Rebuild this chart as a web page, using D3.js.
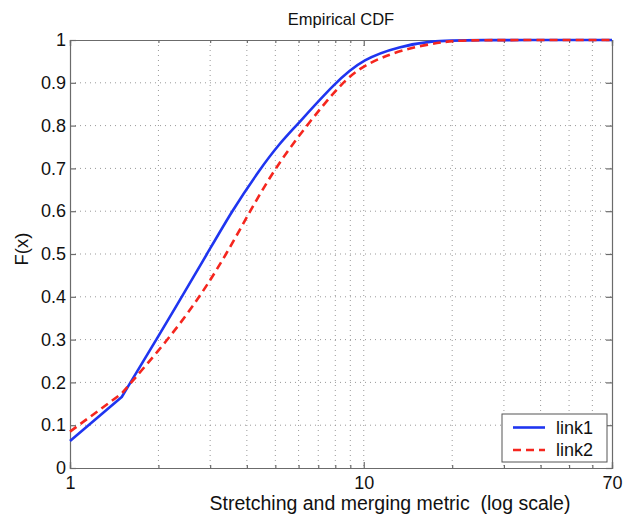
<!DOCTYPE html>
<html><head><meta charset="utf-8">
<script src="https://cdn.jsdelivr.net/npm/d3@7"></script>
<style>body{margin:0;background:#fff;} text{font-family:"Liberation Sans",Arial,sans-serif;fill:#111;}</style>
</head><body><svg id="c" width="633" height="517"></svg>
<script>
const seriesNames = ["link1", "link2"];
const link1X = [1, 1.5, 1.97, 2.93, 3.55, 4.45, 5.15, 5.9, 7.97, 10, 13.3, 17, 22, 70];
const link1Y = [0.063, 0.166, 0.3, 0.5, 0.6, 0.7, 0.757, 0.8, 0.9, 0.957, 0.985, 0.998, 1, 1];
const link2X = [1, 1.5, 2.16, 2.77, 3.41, 4.1, 4.98, 6.38, 8.4, 10, 13.3, 19, 24, 70];
const link2Y = [0.085, 0.174, 0.3, 0.4, 0.5, 0.6, 0.7, 0.8, 0.9, 0.942, 0.977, 0.998, 1, 1];
const yTicks = [0, 0.1, 0.2, 0.3, 0.4, 0.5, 0.6, 0.7, 0.8, 0.9, 1];
const yTickLabels = ["0", "0.1", "0.2", "0.3", "0.4", "0.5", "0.6", "0.7", "0.8", "0.9", "1"];
const xTicks = [1, 10, 70];
const xTickLabels = ["1", "10", "70"];
const xMinor = [2, 3, 4, 5, 6, 7, 8, 9, 20, 30, 40, 50, 60];
const title = "Empirical CDF";
const xLabel = "Stretching and merging metric  (log scale)";
const yLabel = "F(x)";

const L = 70, R = 612, T = 40, B = 468;
const svg = d3.select("#c");
const x = d3.scaleLog().domain([1, 70]).range([L, R]);
const y = d3.scaleLinear().domain([0, 1]).range([B, T]);
const axisCol = "#6b6b6b";

// grid
const g = svg.append("g");
g.selectAll(".gy").data(yTicks.slice(1, -1)).enter().append("line")
  .attr("x1", L).attr("x2", R).attr("y1", d => y(d)).attr("y2", d => y(d))
  .attr("stroke", "#999").attr("stroke-width", 1).attr("stroke-dasharray", "1,4");
g.selectAll(".gx").data(xMinor.concat([10])).enter().append("line")
  .attr("x1", d => x(d)).attr("x2", d => x(d)).attr("y1", T).attr("y2", B)
  .attr("stroke", "#999").attr("stroke-width", 1).attr("stroke-dasharray", "1,4");

// axes (inward ticks)
const axB = d3.axisBottom(x).tickValues(xTicks).tickFormat((d, i) => xTickLabels[i]).tickSize(-6).tickPadding(8);
const axT = d3.axisTop(x).tickValues(xTicks).tickFormat("").tickSize(-6);
const axL = d3.axisLeft(y).tickValues(yTicks).tickFormat((d, i) => yTickLabels[i]).tickSize(-6).tickPadding(4);
const axR = d3.axisRight(y).tickValues(yTicks).tickFormat("").tickSize(-6);
const minB = d3.axisBottom(x).tickValues(xMinor).tickFormat("").tickSize(-3);
const minT = d3.axisTop(x).tickValues(xMinor).tickFormat("").tickSize(-3);
function style(sel){ sel.selectAll("path,line").attr("stroke", axisCol).attr("stroke-width", 1.2);
  sel.selectAll("text").attr("font-size", 18).attr("fill", "#111").attr("font-family", '"Liberation Sans",Arial,sans-serif'); }
style(svg.append("g").attr("transform", `translate(0,${B})`).call(axB));
style(svg.append("g").attr("transform", `translate(0,${T})`).call(axT));
style(svg.append("g").attr("transform", `translate(${L},0)`).call(axL));
style(svg.append("g").attr("transform", `translate(${R},0)`).call(axR));
style(svg.append("g").attr("transform", `translate(0,${B})`).call(minB));
style(svg.append("g").attr("transform", `translate(0,${T})`).call(minT));

// lines: straight first segment (to the knot), smooth after
const lin = d3.line().x(d => x(d[0])).y(d => y(d[1])).curve(d3.curveLinear);
const smooth = d3.line().x(d => x(d[0])).y(d => y(d[1])).curve(d3.curveBasis);
function pathOf(d){ return lin(d.slice(0, 2)) + smooth(d.slice(1)).replace(/^M/, "L"); }
const d1 = link1X.map((v, i) => [v, link1Y[i]]);
const d2 = link2X.map((v, i) => [v, link2Y[i]]);
svg.append("path").attr("d", pathOf(d1)).attr("fill", "none").attr("stroke", "#1f35f0").attr("stroke-width", 2.6).attr("stroke-linejoin", "round");
svg.append("path").attr("d", pathOf(d2)).attr("fill", "none").attr("stroke", "#f5261e").attr("stroke-width", 2.6).attr("stroke-dasharray", "8,5");

// text
svg.append("text").attr("x", 341).attr("y", 25).attr("text-anchor", "middle").attr("font-size", 16.5).text(title);
svg.append("text").attr("x", 390).attr("y", 510).attr("text-anchor", "middle").attr("font-size", 19.5)
  .style("white-space", "pre").text(xLabel);
svg.append("text").attr("transform", "translate(28,249) rotate(-90)").attr("text-anchor", "middle").attr("font-size", 18.5).text(yLabel);

// legend
const lg = svg.append("g");
lg.append("rect").attr("x", 502).attr("y", 414).attr("width", 105).attr("height", 48).attr("fill", "#fff").attr("stroke", "#555").attr("stroke-width", 1);
const cols = ["#1f35f0", "#f5261e"], dashes = [null, "8,5"];
seriesNames.forEach((n, i) => {
  const yy = 427.5 + i * 22.5;
  lg.append("line").attr("x1", 513).attr("x2", 545).attr("y1", yy).attr("y2", yy).attr("stroke", cols[i]).attr("stroke-width", 2.6).attr("stroke-dasharray", dashes[i]);
  lg.append("text").attr("x", 556).attr("y", yy + 6).attr("font-size", 18).text(n);
});
</script></body></html>
